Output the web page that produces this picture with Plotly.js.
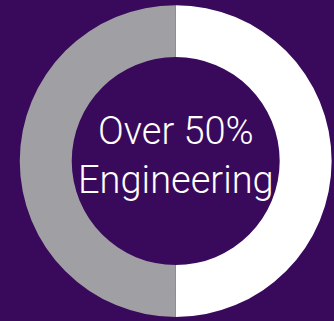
<!DOCTYPE html>
<html>
<head>
<meta charset="utf-8">
<script src="https://cdn.plot.ly/plotly-3.0.1.min.js"></script>
<style>html,body{margin:0;padding:0;background:#390a5c;}</style>
</head>
<body>
<div id="chart" style="width:334px;height:321px;"></div>
<script>
const labels = ["Engineering", "Other"];
const values = [50, 50];
const colors = ["#ffffff", "#a0a0a4"];
const centerText = ["Over 50%", "Engineering"];

const trace = {
  type: "pie",
  labels: labels,
  values: values,
  hole: 0.667,
  sort: false,
  direction: "clockwise",
  rotation: 0,
  textinfo: "none",
  hoverinfo: "none",
  marker: {colors: colors, line: {width: 0}},
  domain: {x: [0.059, 0.993], y: [0.0125, 0.984]},
  showlegend: false
};

const layout = {
  width: 334, height: 321,
  margin: {l: 0, r: 0, t: 0, b: 0},
  paper_bgcolor: "#390a5c",
  plot_bgcolor: "#390a5c",
  showlegend: false,
  annotations: [{
    text: centerText.join("<br>"),
    x: 0.526, y: 0.515, xref: "paper", yref: "paper",
    showarrow: false,
    font: {family: "Roboto, sans-serif", size: 38, color: "#ffffff", weight: 300}
  }]
};

Plotly.newPlot("chart", [trace], layout, {displayModeBar: false, staticPlot: true});
</script>
</body>
</html>
